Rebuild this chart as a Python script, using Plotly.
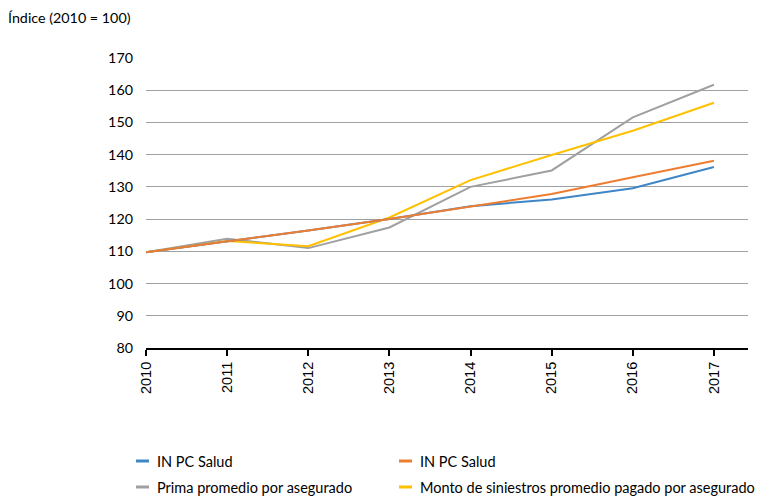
import plotly.graph_objects as go

# Index values (2010 = 100)
years = [2010, 2011, 2012, 2013, 2014, 2015, 2016, 2017]
in_pc_salud_a = [109.7, 113.0, 116.5, 120.0, 124.0, 126.1, 129.6, 136.2]
in_pc_salud_b = [109.7, 113.0, 116.5, 120.0, 124.0, 127.8, 133.0, 138.1]
prima_promedio = [109.7, 113.9, 111.0, 117.4, 130.0, 135.1, 151.6, 161.7]
monto_siniestros = [109.7, 113.2, 111.6, 120.5, 132.1, 139.9, 147.4, 156.1]

series_names = [
    "IN PC Salud",
    "IN PC Salud",
    "Prima promedio por asegurado",
    "Monto de siniestros promedio pagado por asegurado",
]
series_values = [in_pc_salud_a, in_pc_salud_b, prima_promedio, monto_siniestros]
series_colors = ["#3F86C6", "#ED7D31", "#A0A0A0", "#FFC000"]
y_ticks = [80, 90, 100, 110, 120, 130, 140, 150, 160, 170]

W, H = 757, 496
ML, MR, MT, MB = 146, 9, 58, 148
PW, PH = W - ML - MR, H - MT - MB

def px_x(px):
    return (px - ML) / PW

def px_y(py):
    return (H - MB - py) / PH

fig = go.Figure()
# draw gray and yellow first, then the two index lines on top
for i in [2, 3, 0, 1]:
    fig.add_trace(go.Scatter(
        x=years, y=series_values[i], mode="lines", name=series_names[i],
        line=dict(color=series_colors[i], width=2), showlegend=False,
    ))

# two-column legend below the plot
legend_slots = [(136, 461), (399, 461), (136, 487), (399, 487)]
shapes = []
annotations = []
for (lx, ly), name, color in zip(legend_slots, series_names, series_colors):
    shapes.append(dict(type="line", xref="paper", yref="paper",
                       x0=px_x(lx), x1=px_x(lx + 13), y0=px_y(ly), y1=px_y(ly),
                       line=dict(color=color, width=3)))
    annotations.append(dict(xref="paper", yref="paper", x=px_x(lx + 19), y=px_y(ly),
                            xanchor="left", yanchor="middle", showarrow=False,
                            text=name, font=dict(family="Lato", size=14.5, color="#000000")))

annotations.append(dict(xref="paper", yref="paper", x=px_x(6), y=px_y(18),
                        xanchor="left", yanchor="middle", showarrow=False,
                        text="Índice (2010 = 100)",
                        font=dict(family="Lato", size=14.3, color="#000000")))

fig.update_layout(
    width=W, height=H,
    margin=dict(l=ML, r=MR, t=MT, b=MB),
    paper_bgcolor="white", plot_bgcolor="white",
    shapes=shapes, annotations=annotations,
    showlegend=False,
    xaxis=dict(
        range=[2010, 2017.42], tickvals=years, ticktext=[str(y) for y in years],
        tickangle=-90, ticks="outside", ticklen=6, tickwidth=2, tickcolor="#000000",
        showline=True, linecolor="#000000", linewidth=2, showgrid=False, zeroline=False,
        tickfont=dict(family="Liberation Sans", size=14.5, color="#000000"),
    ),
    yaxis=dict(
        range=[80, 170], tickvals=y_ticks, showgrid=True, gridcolor="#A0A0A0", gridwidth=1,
        zeroline=False, showline=False, ticks="", ticklabelstandoff=12,
        tickfont=dict(family="Lato", size=14.3, color="#000000"),
    ),
)

fig.write_html("out.html")
